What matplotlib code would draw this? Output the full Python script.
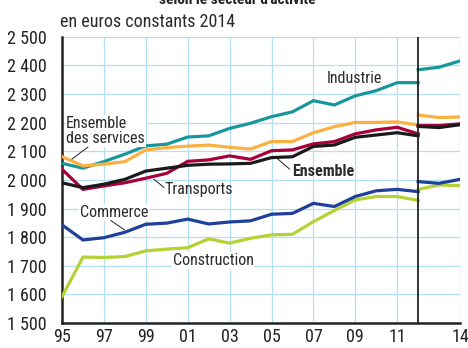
import matplotlib
matplotlib.use("Agg")
import matplotlib.pyplot as plt
import numpy as np

plt.rcParams['font.family'] = ['Roboto Condensed', 'DejaVu Sans Condensed',
                               'Liberation Sans Narrow', 'Liberation Sans', 'DejaVu Sans']

# salaires nets mensuels moyens, en euros constants 2014
years_old = np.arange(1995, 2013)
years_new = np.array([2012, 2013, 2014])

industrie = [2058, 2041, 2064, 2090, 2119, 2125, 2150, 2154, 2180, 2198,
             2221, 2238, 2277, 2262, 2294, 2312, 2340, 2340]
industrie_new = [2385, 2394, 2416]

services = [2081, 2049, 2055, 2064, 2105, 2113, 2118, 2122, 2114, 2108,
            2134, 2134, 2165, 2186, 2201, 2201, 2203, 2192]
services_new = [2227, 2218, 2220]

transports = [2037, 1967, 1979, 1990, 2006, 2023, 2065, 2070, 2084, 2072,
              2102, 2105, 2126, 2134, 2161, 2175, 2184, 2161]
transports_new = [2190, 2190, 2196]

ensemble = [1990, 1973, 1985, 2002, 2031, 2041, 2051, 2055, 2056, 2058,
            2078, 2081, 2117, 2122, 2149, 2157, 2165, 2154]
ensemble_new = [2187, 2183, 2193]

commerce = [1843, 1790, 1798, 1817, 1845, 1849, 1863, 1846, 1853, 1857,
            1880, 1883, 1918, 1907, 1942, 1962, 1967, 1959]
commerce_new = [1994, 1988, 2002]

construction = [1592, 1730, 1729, 1732, 1752, 1758, 1763, 1794, 1779, 1796,
                1808, 1810, 1854, 1893, 1930, 1942, 1942, 1928]
construction_new = [1967, 1982, 1980]

xticks = [1995, 1997, 1999, 2001, 2003, 2005, 2007, 2009, 2011, 2014]
xtick_labels = ['95', '97', '99', '01', '03', '05', '07', '09', '11', '14']
yticks = list(range(1500, 2501, 100))
ytick_labels = [f"{v:,}".replace(',', ' ') for v in yticks]

series = [
    (construction, construction_new, '#b4d234'),
    (commerce, commerce_new, '#1e3f9a'),
    (industrie, industrie_new, '#17979c'),
    (services, services_new, '#fbb040'),
    (transports, transports_new, '#a8003a'),
    (ensemble, ensemble_new, '#1a1a1a'),
]

fig = plt.figure(figsize=(4.68, 3.48), dpi=100)
ax = fig.add_axes([0.1325, 0.072, 0.8505, 0.822])

for old, new, col in series:
    ax.plot(years_old, old, color=col, lw=2.3, solid_joinstyle='miter', zorder=3)
    ax.plot(years_new, new, color=col, lw=2.3, solid_joinstyle='miter', zorder=3)

# rupture de série en 2012
ax.axvline(2012, color='#222222', lw=1.3, zorder=4)

ax.set_xlim(1995, 2014)
ax.set_ylim(1500, 2500)
ax.set_xticks(xticks)
ax.set_xticklabels(xtick_labels)
ax.set_yticks(yticks)
ax.set_yticklabels(ytick_labels)
ax.tick_params(length=0, labelsize=13, colors='#222222')
ax.tick_params(axis='y', pad=11)
ax.tick_params(axis='x', pad=4)
ax.grid(True, color='#b5def5', lw=0.9, zorder=0)
ax.set_axisbelow(True)
for s in ['top', 'right']:
    ax.spines[s].set_visible(False)
for s in ['left', 'bottom']:
    ax.spines[s].set_linewidth(1.8)
    ax.spines[s].set_color('#222222')

lbl = dict(fontsize=11.5, color='#2a2a2a', zorder=5)
bg = dict(facecolor='white', edgecolor='none', pad=0.5)

ax.text(2008.95, 2356, 'Industrie', ha='center', va='center', **lbl)
ax.text(1995.2, 2171, 'Ensemble\ndes services', ha='left', va='center',
        linespacing=1.05, bbox=bg, **lbl)
ax.text(1999.9, 1965, 'Transports', ha='left', va='center', **lbl)
ax.text(2005.98, 2029, 'Ensemble', ha='left', va='center', fontweight='bold', **lbl)
ax.text(1995.84, 1886, 'Commerce', ha='left', va='center', bbox=bg, **lbl)
ax.text(2000.29, 1718, 'Construction', ha='left', va='center', bbox=bg, **lbl)

# traits de rappel
leaders = [
    ((1996.24, 2115), (1995.48, 2073)),
    ((1999.86, 1974), (1999.38, 2003)),
    ((2005.86, 2038), (2005.19, 2080)),
    ((1997.33, 1858), (1997.99, 1825)),
]
for (x0, y0), (x1, y1) in leaders:
    ax.plot([x0, x1], [y0, y1], color='#222222', lw=0.7, zorder=5)

fig.text(0.128, 0.937, 'en euros constants 2014', ha='left', va='center',
         fontsize=13, color='#2a2a2a')
fig.text(0.508, 0.989, "selon le secteur d'activité", ha='center', va='baseline',
         fontsize=11, fontweight='bold', color='#222222')

fig.savefig('out.png', dpi=100)
